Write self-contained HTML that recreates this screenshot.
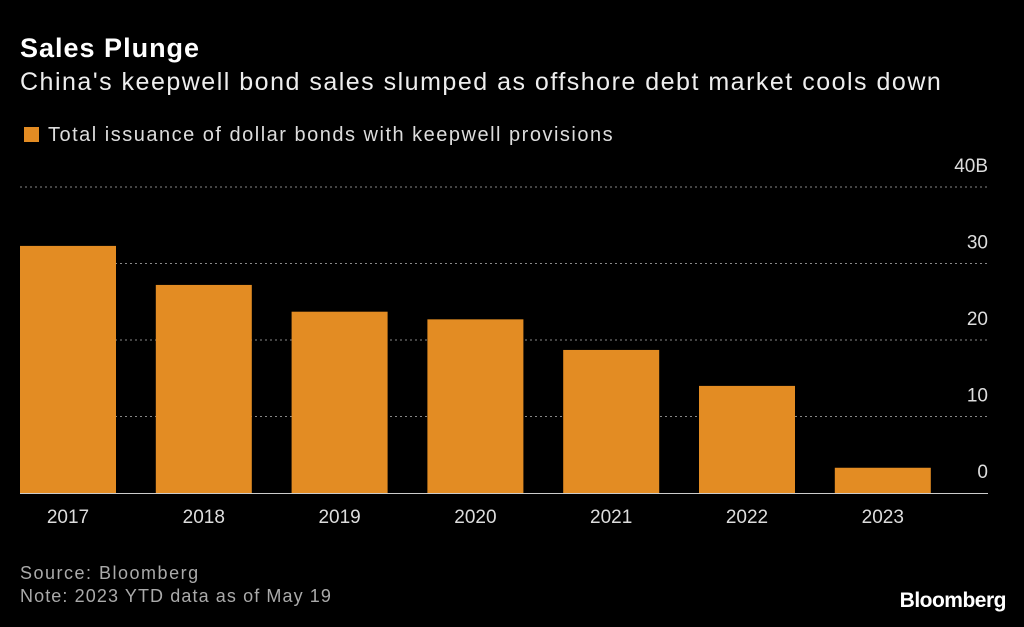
<!DOCTYPE html>
<html><head><meta charset="utf-8"><style>
body{margin:0;background:#000;width:1024px;height:627px;overflow:hidden;font-family:"Liberation Sans",sans-serif;color:#fff}
.t{position:absolute;white-space:nowrap}
</style></head><body>
<div class="t" style="left:20px;top:33px;font-size:27px;font-weight:bold;letter-spacing:1px">Sales Plunge</div>
<div class="t" style="left:20px;top:68px;font-size:25px;color:#eee;letter-spacing:1.5px">China's keepwell bond sales slumped as offshore debt market cools down</div>
<div class="t" style="left:24px;top:124px;font-size:20px;color:#ddd;letter-spacing:1.5px"><span style="display:inline-block;width:15px;height:15px;background:#E38C23;margin-right:9px;vertical-align:-1px"></span>Total issuance of dollar bonds with keepwell provisions</div>
<svg id="chart" width="1024" height="627" style="position:absolute;left:0;top:0"></svg>
<div class="t" style="left:20px;top:563px;font-size:18px;color:#aaa;letter-spacing:1.5px">Source: Bloomberg</div>
<div class="t" style="left:20px;top:586px;font-size:18px;color:#aaa;letter-spacing:1.1px">Note: 2023 YTD data as of May 19</div>
<div class="t" style="right:18px;top:589px;font-size:21px;font-weight:bold;letter-spacing:-0.5px">Bloomberg</div>
<script>
const categories=["2017","2018","2019","2020","2021","2022","2023"];
const values=[32.3,27.2,23.7,22.7,18.7,14.0,3.3];
const ticks=[0,10,20,30,40];
const tickLabels=["0","10","20","30","40B"];
const svg=document.getElementById('chart');
const NS='http://www.w3.org/2000/svg';
const y0=493,pxPer=7.65,x0=20,step=135.8,bw=96;
const y=v=>y0-v*pxPer;
const x=i=>x0+i*step;
function mk(tag,attrs){const e=document.createElementNS(NS,tag);for(const k in attrs)e.setAttribute(k,attrs[k]);svg.appendChild(e);return e;}
ticks.forEach((t,i)=>{
  if(t!==0){const l=mk('line',{x1:20,x2:988,y1:y(t),y2:y(t),stroke:'#888','stroke-dasharray':'2,3','stroke-width':1});
  
  }
  const tx=mk('text',{x:988,y:y(t)-15,'text-anchor':'end','font-size':19,fill:'#ddd','font-family':'Liberation Sans'});
  tx.textContent=tickLabels[i];
  
  
});
values.forEach((v,i)=>{
  const r=mk('rect',{x:x(i),y:y(v),width:bw,height:y0-y(v),fill:'#E38C23'});
  
  
  const tx=mk('text',{x:x(i)+bw/2,y:523,'text-anchor':'middle','font-size':19,fill:'#ddd','font-family':'Liberation Sans'});
  tx.textContent=categories[i];
  
  
});
const b=mk('line',{x1:20,x2:988,y1:y0+0.5,y2:y0+0.5,stroke:'#ccc','stroke-width':1});


</script>
</body></html>
